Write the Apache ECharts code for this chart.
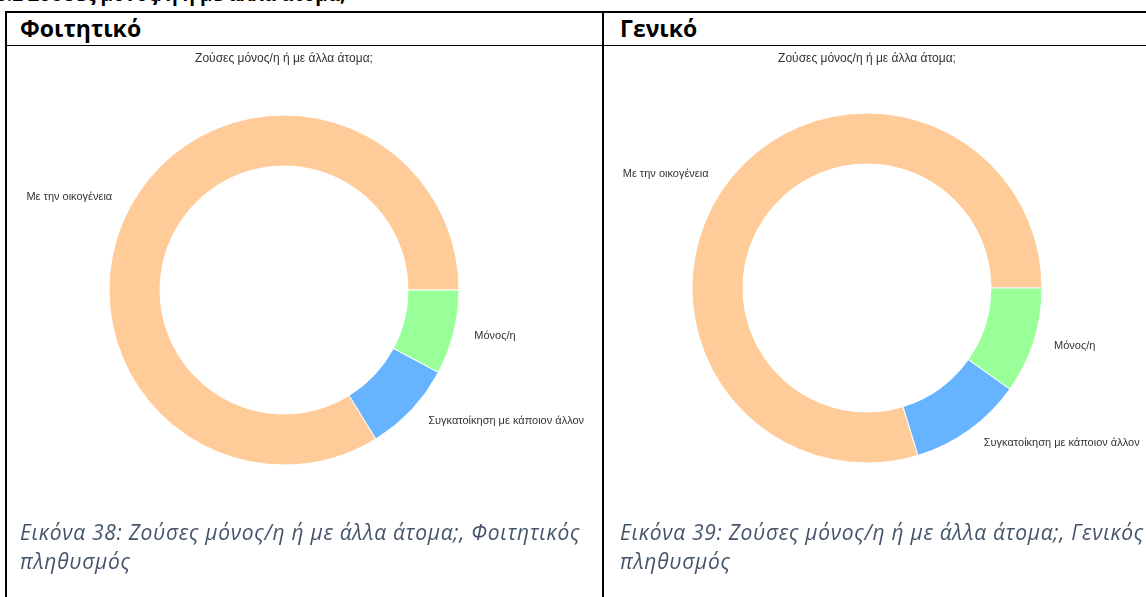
<!DOCTYPE html>
<html>
<head>
<meta charset="utf-8">
<script src="https://cdn.jsdelivr.net/npm/echarts@6/dist/echarts.min.js"></script>
<style>
  html, body { margin: 0; padding: 0; background: #fff; }
  body { width: 1146px; height: 597px; position: relative; overflow: hidden; font-family: "Open Sans", sans-serif; }
  .line { position: absolute; background: #000; }
  .head { position: absolute; font-weight: bold; font-size: 23px; line-height: 23px; color: #000; white-space: nowrap; }
  .cap { position: absolute; font-style: italic; font-size: 21px; line-height: 29px; letter-spacing: 0.7px; color: #44546a; white-space: nowrap; }
  #chart { position: absolute; left: 0; top: 0; width: 1146px; height: 597px; }
</style>
</head>
<body>
<div class="head" style="left:-4px; top:-15px; font-size:19px; line-height:19px;">5.2 Ζούσες μόνος/η ή με άλλα άτομα;</div>

<!-- table borders -->
<div class="line" style="left:5px; top:11px; width:1141px; height:2px;"></div>
<div class="line" style="left:5px; top:11px; width:2px; height:586px;"></div>
<div class="line" style="left:602px; top:11px; width:2px; height:586px;"></div>
<div class="line" style="left:5px; top:45px; width:1141px; height:1px;"></div>

<div class="head" style="left:20px; top:17px;">Φοιτητικό</div>
<div class="head" style="left:620px; top:17px;">Γενικό</div>

<div id="chart"></div>

<div class="cap" style="left:20px; top:518px;">Εικόνα 38: Ζούσες μόνος/η ή με άλλα άτομα;, Φοιτητικός<br>πληθυσμός</div>
<div class="cap" style="left:620px; top:518px;">Εικόνα 39: Ζούσες μόνος/η ή με άλλα άτομα;, Γενικός<br>πληθυσμός</div>

<script>
// data (percent of answers)
const chartTitle = 'Ζούσες μόνος/η ή με άλλα άτομα;';
const categories = ['Με την οικογένεια', 'Συγκατοίκηση με κάποιον άλλον', 'Μόνος/η'];
const studentValues = [83.8, 8.4, 7.8];
const generalValues = [79.7, 10.5, 9.8];
const colors = ['#ffcc99', '#66b3ff', '#99ff99'];

const chart = echarts.init(document.getElementById('chart'), null, { renderer: 'canvas' });

const makePie = (values, center) => ({
  type: 'pie',
  center: center,
  radius: [124, 175],
  startAngle: 0,
  clockwise: false,
  avoidLabelOverlap: false,
  silent: true,
  itemStyle: { borderColor: '#fff', borderWidth: 1 },
  label: {
    show: true,
    position: 'outside',
    fontSize: 11,
    fontFamily: 'Liberation Sans',
    color: '#333'
  },
  labelLine: { show: false, length: 16, length2: 0 },
  emphasis: { disabled: true },
  data: categories.map((name, i) => ({
    name: name,
    value: values[i],
    itemStyle: { color: colors[i] }
  }))
});

const titleStyle = { fontSize: 12, fontWeight: 'normal', color: '#333', fontFamily: 'Liberation Sans' };

const option = {
  animation: false,
  title: [
    { text: chartTitle, left: 284, top: 53, padding: 0, textAlign: 'center', textStyle: titleStyle },
    { text: chartTitle, left: 867, top: 53, padding: 0, textAlign: 'center', textStyle: titleStyle }
  ],
  series: [
    makePie(studentValues, [284, 290]),
    makePie(generalValues, [867, 288])
  ]
};

chart.setOption(option);
</script>
</body>
</html>
